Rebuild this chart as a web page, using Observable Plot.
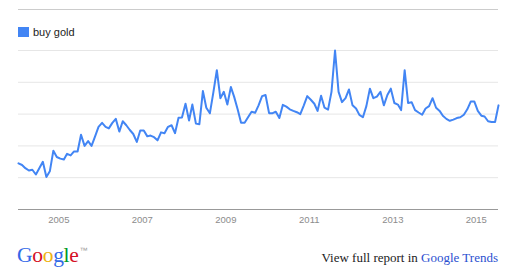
<!DOCTYPE html>
<html>
<head>
<meta charset="utf-8">
<script src="https://cdn.jsdelivr.net/npm/d3@7"></script>
<script src="https://cdn.jsdelivr.net/npm/@observablehq/plot@0.6"></script>
<style>
  html, body { margin: 0; padding: 0; background: #fff; }
  #wrap { position: relative; width: 517px; height: 277px; overflow: hidden; }
  #chart { position: absolute; left: 0; top: 0; }
  #topline { position: absolute; left: 18px; top: 9px; width: 480px; border-top: 1px solid #cccccc; }
  #legend { position: absolute; left: 18px; top: 27px; height: 11px; font: 11px "Liberation Sans", Arial, sans-serif; color: #222; }
  #legend .sw { position: absolute; left: 0; top: 0; width: 11px; height: 10px; background: #4285f4; }
  #legend .lb { position: absolute; left: 15px; top: -2px; white-space: nowrap; line-height: 14px; }
  #logo { position: absolute; left: 17px; top: 243px; font: 21.5px "Liberation Serif", "Times New Roman", serif; letter-spacing: -0.3px; white-space: nowrap; }
  #logo sup { font: 8px "Liberation Sans", Arial, sans-serif; color: #999; vertical-align: 9px; margin-left: 1px; }
  #report { position: absolute; right: 19px; top: 250px; font: 13px "Liberation Serif", "Times New Roman", serif; color: #222; white-space: nowrap; }
  #report span { color: #2a4fd0; }
</style>
</head>
<body>
<div id="wrap">
  <div id="chart"></div>
  <div id="topline"></div>
  <div id="legend"><div class="sw"></div><div class="lb">buy gold</div></div>
  <div id="logo"><span style="color:#3369e8">G</span><span style="color:#d50f25">o</span><span style="color:#eeb211">o</span><span style="color:#3369e8">g</span><span style="color:#009925">l</span><span style="color:#d50f25">e</span><sup>™</sup></div>
  <div id="report">View full report in <span>Google Trends</span></div>
</div>
<script>
// Monthly search interest for "buy gold", starting January 2004
const seriesName = "buy gold";
const startYear = 2004;
const values = [
  29, 28, 26, 24.5, 25, 22, 26, 30, 20.5, 24, 37, 33,
  32, 31.5, 35, 34, 36.5, 36.5, 47, 40, 43, 40, 46, 52,
  54.5, 52, 51, 54.5, 57, 49, 55.5, 53, 50, 47.5, 42.5, 49.7,
  49.7, 46, 46.5, 45.5, 43.5, 48.5, 48, 52, 53, 48, 57.7, 57.8,
  66.5, 56, 66, 54, 53.6, 74.5, 64, 60.5, 73.8, 87.6, 70, 74,
  66, 77, 71, 63, 54.5, 54.5, 58, 61.5, 60.8, 65.5, 71.3, 72,
  60.6, 60.6, 61.5, 57.5, 65.8, 64.7, 63, 62, 61.2, 60, 65.5, 71.3,
  69, 66.5, 62, 71.5, 64, 62.8, 74, 100, 74, 67.5, 70, 75.5,
  65.5, 63.5, 59.5, 58, 65, 76, 70, 71, 74, 65.5, 72, 76,
  67, 66, 62.5, 87.6, 67, 67.5, 62.5, 61, 59.6, 63.5, 65, 70,
  64, 62, 59, 57, 55.8, 56.5, 57.5, 58, 59.6, 63, 68, 68,
  62, 59, 58.5, 55.5, 55, 55, 65.5
];
const tickYears = [2005, 2007, 2009, 2011, 2013, 2015];
const gridValues = [20, 40, 60, 80, 100];

const data = values.map((v, i) => ({ date: new Date(Date.UTC(startYear, i, 1)), value: v }));
const tickDates = tickYears.map(y => new Date(Date.UTC(y, 0, 1)));

const chart = Plot.plot({
  width: 517,
  height: 232,
  marginLeft: 18,
  marginRight: 19,
  marginTop: 50,
  marginBottom: 23,
  style: { fontFamily: "'Liberation Sans', Arial, sans-serif", fontSize: "9.5px", background: "transparent" },
  x: { type: "utc", domain: [data[0].date, data[data.length - 1].date] },
  y: { domain: [0, 100], axis: null },
  marks: [
    Plot.ruleY(gridValues, { stroke: "#e6e6e6", strokeWidth: 1 }),
    Plot.ruleY([0], { stroke: "#999999", strokeWidth: 1 }),
    Plot.axisX(tickDates, { tickSize: 0, tickPadding: 7, tickFormat: d => String(d.getUTCFullYear()), color: "#8c8c8c", dx: -1.5 }),
    Plot.lineY(data, { x: "date", y: "value", stroke: "#4285f4", strokeWidth: 2, strokeLinejoin: "round" })
  ]
});
document.getElementById("chart").appendChild(chart);
</script>
</body>
</html>
